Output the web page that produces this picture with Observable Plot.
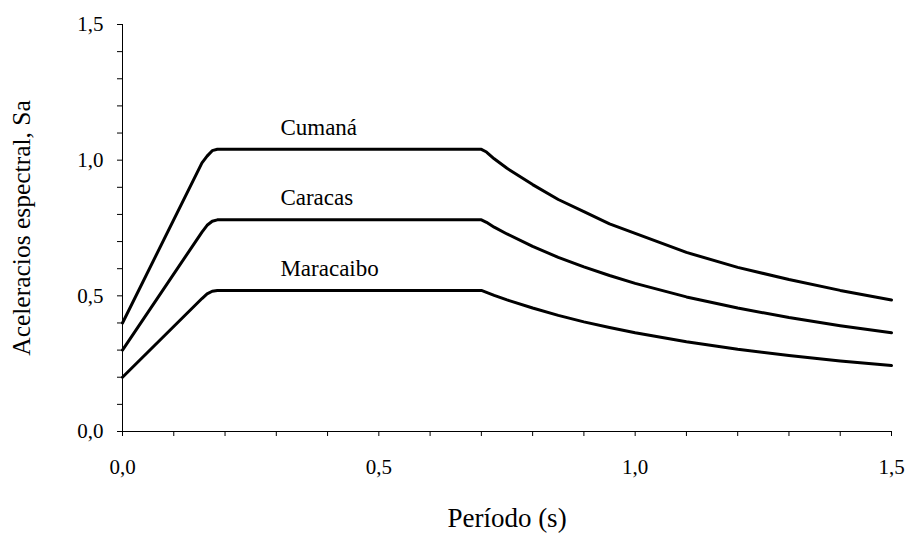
<!DOCTYPE html>
<html>
<head>
<meta charset="utf-8">
<script src="https://cdn.jsdelivr.net/npm/d3@7"></script>
<script src="https://cdn.jsdelivr.net/npm/@observablehq/plot@0.6"></script>
<style>
  html, body { margin: 0; padding: 0; background: #fff; }
  #chart { width: 907px; height: 533px; font-family: 'Liberation Serif', serif; }
</style>
</head>
<body>
<div id="chart"></div>
<script>
// Data
const cities = ["Cumaná", "Caracas", "Maracaibo"];
const periods = [0, 0.155, 0.165, 0.175, 0.185, 0.7, 0.71, 0.725, 0.75, 0.8, 0.85, 0.9, 0.95, 1.0, 1.1, 1.2, 1.3, 1.4, 1.5];
const saCumana    = [0.40, 0.99, 1.015, 1.035, 1.04, 1.04, 1.03, 1.005, 0.97, 0.91, 0.855, 0.81, 0.765, 0.73, 0.66, 0.605, 0.56, 0.52, 0.485];
const saCaracas   = [0.30, 0.735, 0.76, 0.775, 0.78, 0.78, 0.771, 0.753, 0.728, 0.682, 0.642, 0.607, 0.575, 0.546, 0.496, 0.455, 0.42, 0.39, 0.364];
const saMaracaibo = [0.20, 0.49, 0.507, 0.517, 0.52, 0.52, 0.513, 0.502, 0.485, 0.455, 0.428, 0.404, 0.383, 0.364, 0.331, 0.303, 0.28, 0.26, 0.243];
const plateaus = [1.04, 0.78, 0.52];
const labelPeriod = 0.308;
const xTicksMajor = [0, 0.5, 1.0, 1.5];
const xTicksMinor = [0, 0.1, 0.2, 0.3, 0.4, 0.5, 0.6, 0.7, 0.8, 0.9, 1.0, 1.1, 1.2, 1.3, 1.4, 1.5];
const yTicksMajor = [0, 0.5, 1.0, 1.5];
const yTicksMinor = [0, 0.1, 0.2, 0.3, 0.4, 0.5, 0.6, 0.7, 0.8, 0.9, 1.0, 1.1, 1.2, 1.3, 1.4, 1.5];

const seriesValues = [saCumana, saCaracas, saMaracaibo];
const rows = cities.flatMap((c, i) => periods.map((t, j) => ({city: c, T: t, Sa: seriesValues[i][j]})));
const labels = cities.map((c, i) => ({city: c, T: labelPeriod, Sa: plateaus[i]}));

const fmt = d => d.toFixed(1).replace(".", ",");
const font = "Liberation Serif";

const chart = Plot.plot({
  width: 907,
  height: 533,
  marginLeft: 122,
  marginRight: 16,
  marginTop: 24,
  marginBottom: 102,
  style: {background: "#fff", color: "#000", overflow: "visible"},
  x: {domain: [0, 1.5]},
  y: {domain: [0, 1.5]},
  marks: [
    Plot.axisX({ticks: xTicksMinor, tickSize: 5, tickFormat: () => "", stroke: "#000", strokeOpacity: 1, label: null}),
    Plot.axisX({ticks: xTicksMajor, tickSize: 0, tickPadding: 28, tickFormat: fmt, fontSize: 21, fontFamily: font, fill: "#000", label: null}),
    Plot.axisY({ticks: yTicksMinor, tickSize: 5, tickFormat: () => "", stroke: "#000", strokeOpacity: 1, label: null}),
    Plot.axisY({ticks: yTicksMajor, tickSize: 0, tickPadding: 19, tickFormat: fmt, fontSize: 21, fontFamily: font, fill: "#000", label: null}),
    Plot.ruleX([0], {y1: 0, y2: 1.5, stroke: "#000", strokeWidth: 1}),
    Plot.ruleY([0], {x1: 0, x2: 1.5, stroke: "#000", strokeWidth: 1}),
    Plot.line(rows, {x: "T", y: "Sa", z: "city", stroke: "#000", strokeWidth: 3, strokeLinejoin: "round", curve: "linear"}),
    Plot.text(labels, {x: "T", y: "Sa", text: "city", textAnchor: "start", lineAnchor: "middle", dy: -22, fontSize: 23, fontFamily: font, fill: "#000"}),
    Plot.text(["Período (s)"], {frameAnchor: "bottom", textAnchor: "middle", dy: 87, lineAnchor: "middle", fontSize: 27, fontFamily: font, fill: "#000"}),
    Plot.text(["Aceleracios espectral, Sa"], {frameAnchor: "left", textAnchor: "middle", dx: -101, rotate: -90, lineAnchor: "middle", fontSize: 25.5, fontFamily: font, fill: "#000"})
  ]
});
chart.querySelectorAll("text").forEach(t => t.style.fontFamily = "'Liberation Serif', serif");
document.getElementById("chart").appendChild(chart);
</script>
</body>
</html>
